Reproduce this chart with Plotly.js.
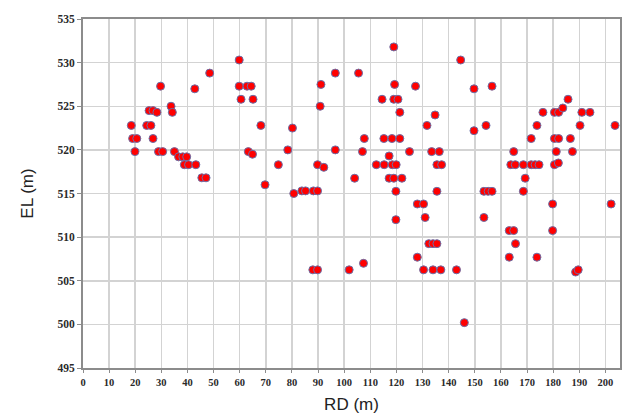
<!DOCTYPE html>
<html>
<head>
<meta charset="utf-8">
<script src="https://cdn.plot.ly/plotly-3.0.1.min.js"></script>
<style>html,body{margin:0;padding:0;background:#fff;}#chart{width:623px;height:420px;}</style>
</head>
<body>
<div id="chart"></div>
<script>
// RD (m) and EL (m) of each observation point
var rd = [18.5,19.0,20.6,19.9,24.4,26.0,26.8,25.3,26.8,28.3,29.7,28.9,30.5,33.7,34.2,35.0,36.6,38.2,39.7,38.8,40.4,43.2,42.8,45.5,47.1,48.5,
  59.8,59.8,62.8,64.4,60.5,65.1,63.3,64.9,68.1,69.7,74.8,78.4,80.2,80.7,83.8,85.2,88.2,89.8,89.8,92.2,90.8,91.1,96.6,96.6,88.0,89.8,101.9,104.0,105.5,107.4,107.0,107.7,
  112.3,114.5,115.2,115.3,117.2,117.2,118.3,118.4,119.0,119.3,119.0,120.6,121.3,121.3,119.9,119.0,122.1,119.8,119.8,125.0,127.3,128.0,130.4,131.0,128.0,130.4,131.7,
  132.4,134.0,135.5,134.0,137.0,133.5,136.4,134.8,135.5,137.3,135.5,143.0,144.6,146.0,149.7,149.7,153.5,155.1,156.6,153.5,154.3,156.6,
  163.2,164.9,165.6,163.2,163.8,165.5,164.9,168.6,169.3,168.6,171.6,173.1,174.6,171.6,173.8,176.1,173.8,179.8,179.8,180.5,182.0,181.2,180.5,182.1,180.5,182.1,183.7,185.7,
  186.6,187.4,188.6,189.6,190.3,191.0,194.1,202.2,203.7];
var el = [522.8,521.3,521.3,519.8,522.8,522.8,521.3,524.5,524.5,524.3,527.3,519.8,519.8,525.0,524.3,519.8,519.2,519.2,519.2,518.3,518.3,518.3,527.0,516.8,516.8,528.8,
  530.3,527.3,527.3,527.3,525.8,525.8,519.8,519.5,522.8,516.0,518.3,520.0,522.5,515.0,515.3,515.3,515.3,515.3,518.3,518.0,525.0,527.5,528.8,520.0,506.25,506.25,506.25,516.75,528.8,507.0,519.8,521.3,
  518.3,525.8,521.3,518.3,519.3,516.75,521.3,518.3,531.8,527.5,525.8,525.8,524.3,521.3,518.3,516.75,516.75,515.25,512.0,519.8,527.3,513.8,513.8,512.25,507.7,506.25,522.8,
  509.25,509.25,509.25,506.25,506.25,519.8,519.8,524.0,518.3,518.3,515.25,506.25,530.3,500.2,527.0,522.2,515.25,515.25,515.25,512.25,522.8,527.3,
  510.75,510.75,509.25,507.7,518.3,518.3,519.8,518.3,516.75,515.25,518.3,518.3,518.3,521.3,522.8,524.3,507.7,513.8,510.75,518.3,518.5,519.8,521.3,521.3,524.3,524.3,524.8,525.8,
  521.3,519.8,506.0,506.25,522.8,524.3,524.3,513.8,522.8];
var xTicks = [0,10,20,30,40,50,60,70,80,90,100,110,120,130,140,150,160,170,180,190,200];
var yTicks = [495,500,505,510,515,520,525,530,535];

var serif = 'Liberation Serif, Times New Roman, serif';
var sans = 'Liberation Sans, Arial, sans-serif';
Plotly.newPlot('chart', [{
  type: 'scatter', mode: 'markers', x: rd, y: el,
  marker: {color: '#ff0000', size: 8, line: {color: '#6a6fa8', width: 1}},
  hoverinfo: 'x+y'
}], {
  width: 623, height: 420,
  margin: {l: 83, r: 3, t: 19, b: 52},
  paper_bgcolor: '#fff', plot_bgcolor: '#fff',
  showlegend: false,
  xaxis: {
    range: [0, 205.6], tickvals: xTicks, ticktext: xTicks.map(String),
    showgrid: true, gridcolor: '#d3d3d3', gridwidth: 1.5, zeroline: false,
    showline: true, linecolor: '#8c8c8c', linewidth: 2, mirror: true,
    ticks: 'outside', ticklen: 3, tickcolor: '#8c8c8c',
    tickfont: {family: serif, size: 10.5, color: '#2a2a2a', weight: 'bold'},
    title: {text: 'RD (m)', font: {family: sans, size: 17, color: '#222'}, standoff: 12}
  },
  yaxis: {
    range: [495, 535], tickvals: yTicks, ticktext: yTicks.map(String),
    showgrid: true, gridcolor: '#d3d3d3', gridwidth: 1.5, zeroline: false,
    showline: true, linecolor: '#8c8c8c', linewidth: 2, mirror: true,
    ticks: 'outside', ticklen: 4, tickcolor: '#8c8c8c',
    tickfont: {family: serif, size: 11.5, color: '#2a2a2a', weight: 'bold'},
    title: {text: 'EL (m)', font: {family: sans, size: 17, color: '#222'}, standoff: 20}
  }
}, {displayModeBar: false, staticPlot: true});
</script>
</body>
</html>
